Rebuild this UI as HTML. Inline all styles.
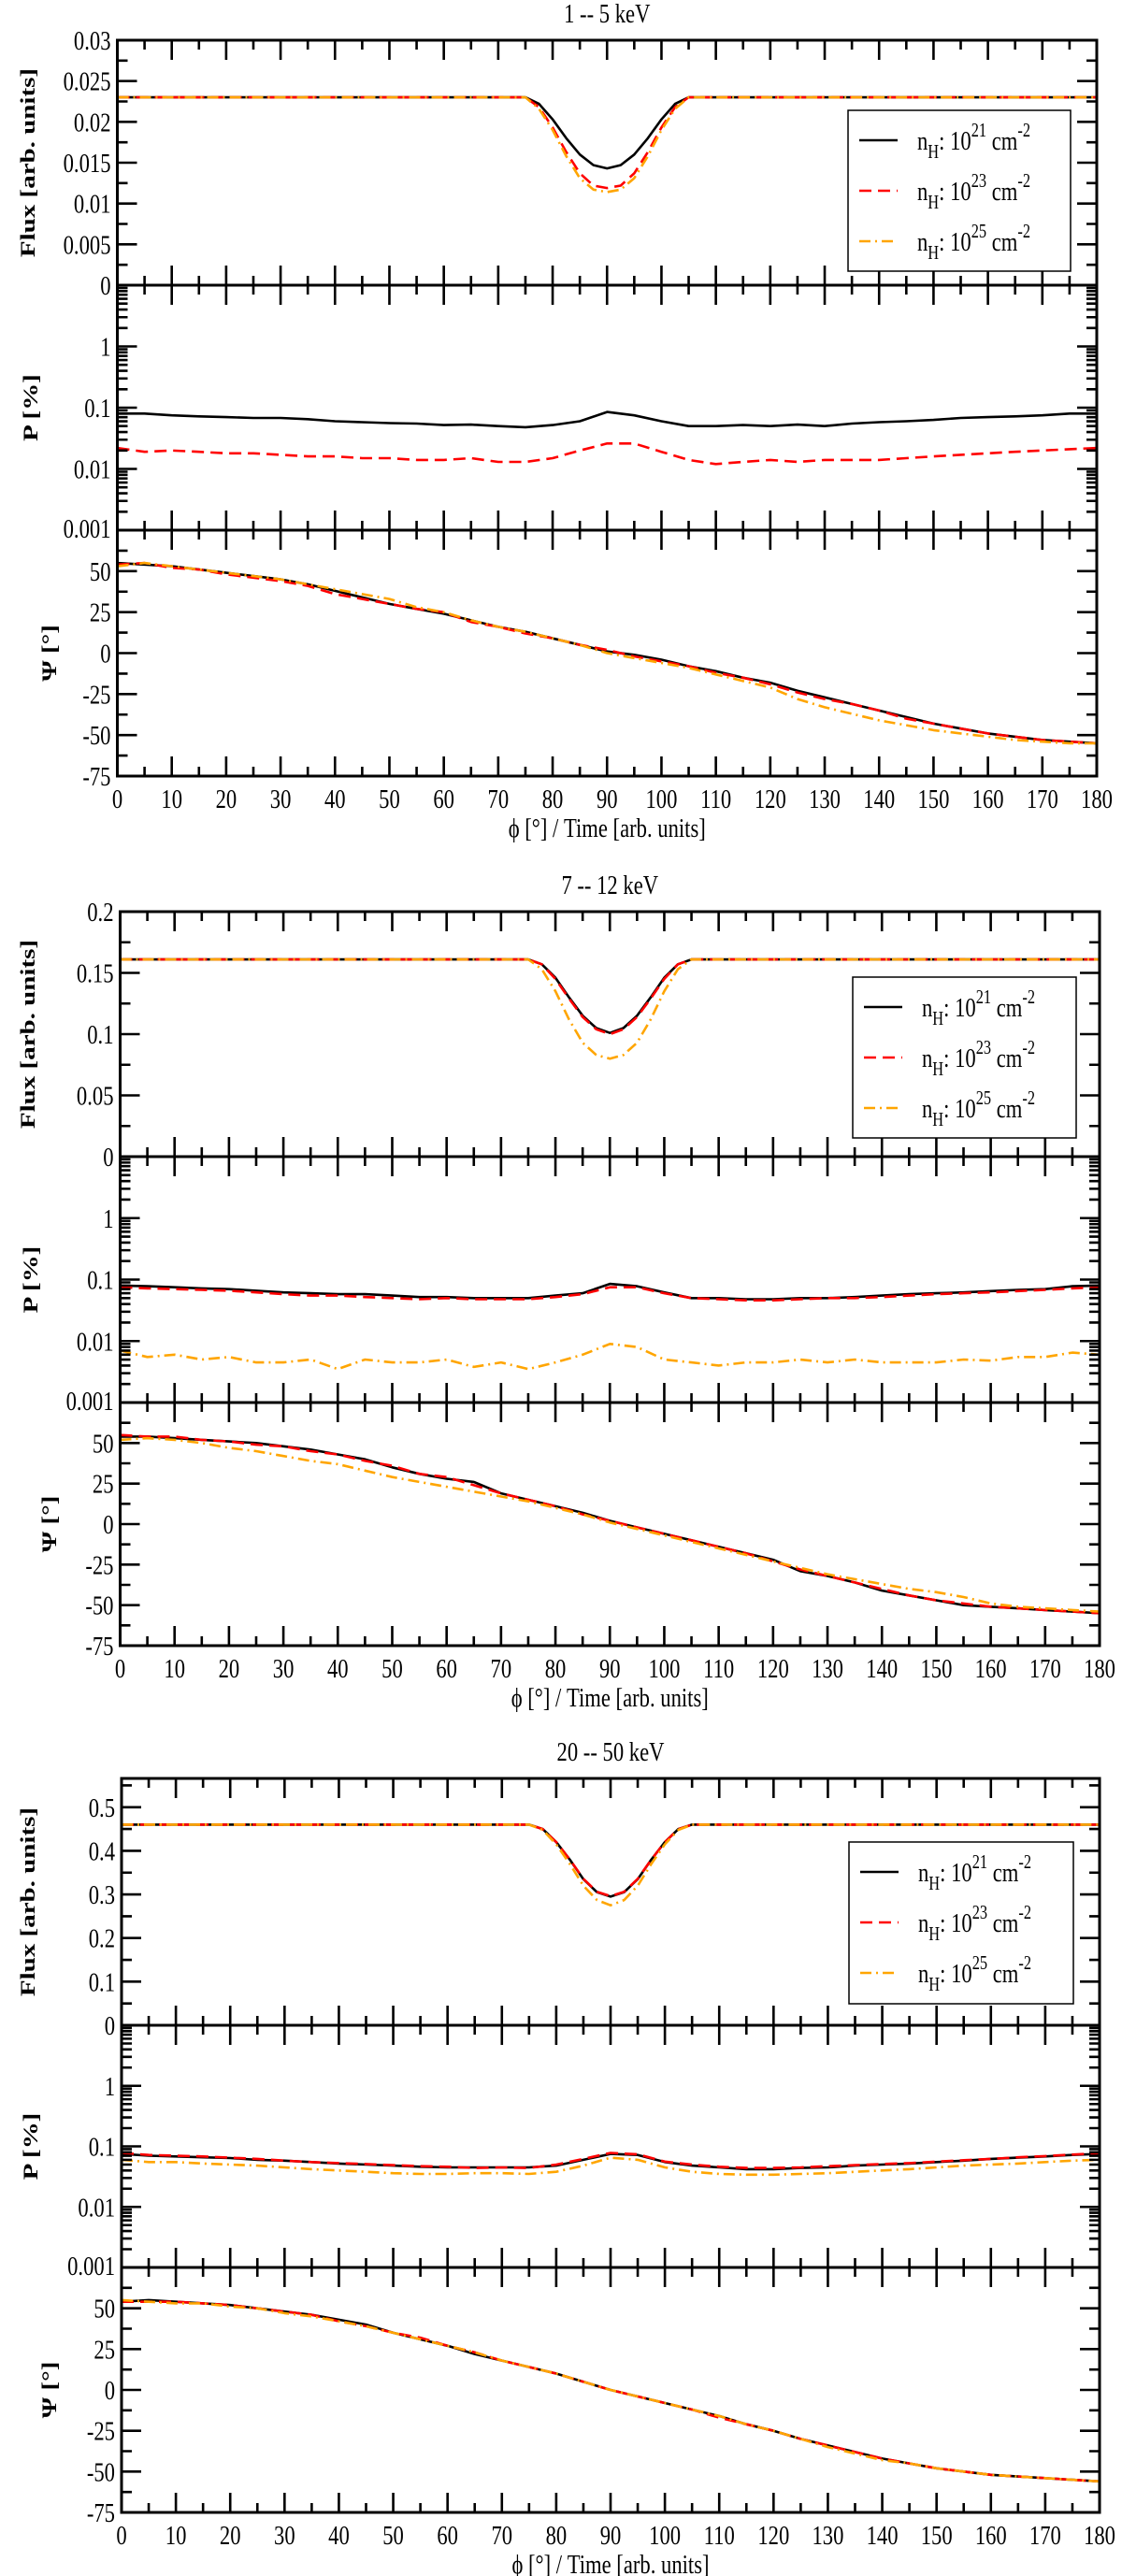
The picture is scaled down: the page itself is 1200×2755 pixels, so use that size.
<!DOCTYPE html>
<html><head><meta charset="utf-8"><style>
html,body{margin:0;padding:0;background:#fff}
svg{display:block;font-family:"Liberation Serif","DejaVu Serif",serif}
svg text{font-family:"Liberation Serif","DejaVu Serif",serif}
</style></head><body>
<svg id="fig" width="1200" height="2755" viewBox="0 0 1200 2755" xmlns="http://www.w3.org/2000/svg" font-family="Liberation Serif, DejaVu Serif, serif"></svg>
<script>
// ---------- data ----------
const phiSteps = [0,5,10,15,20,25,30,35,40,45,50,55,60,65,70,75,80,85,90,95,100,105,110,115,120,125,130,135,140,145,150,155,160,165,170,175,180];
const fluxX = [0,75,77.5,80,82.5,85,87.5,90,92.5,95,97.5,100,102.5,105,180];
const seriesNames = ["n21","n23","n25"];
const seriesExp = ["21","23","25"];

// Panel 1: 1 -- 5 keV
const p1FluxBlack = [.023,.023,.0222,.0203,.0180,.0160,.0147,.0143,.0147,.0160,.0180,.0203,.0222,.023,.023];
const p1FluxRed = [.023,.023,.0218,.0193,.0163,.0137,.0122,.0119,.0122,.0137,.0163,.0193,.0218,.023,.023];
const p1FluxOrange = [.023,.023,.0216,.0190,.0158,.0131,.0117,.0114,.0117,.0131,.0158,.0190,.0216,.023,.023];
const p1PBlack = [.08,.08,.075,.072,.07,.068,.068,.065,.06,.058,.056,.055,.052,.053,.05,.048,.052,.06,.085,.075,.06,.05,.05,.052,.05,.053,.05,.055,.058,.06,.063,.068,.07,.072,.075,.08,.08];
const p1PRed = [.022,.019,.02,.019,.018,.018,.017,.016,.016,.015,.015,.014,.014,.015,.013,.013,.015,.02,.026,.026,.019,.014,.012,.013,.014,.013,.014,.014,.014,.015,.016,.017,.018,.019,.02,.021,.022];
const p1POrange = [];
const p1PsiBlack = [55,54,53,51,49,47,45,42,38,34,30,27,24,20,16,13,9,5,1,-1,-4,-8,-11,-15,-18,-23,-27,-31,-35,-39,-43,-46,-49,-51,-53,-54,-55];
const p1PsiRed = [54,55,52,51,48,46,44,41,36,33,30,27,25,19,16,12,9,5,2,-2,-5,-8,-12,-15,-19,-24,-28,-31,-35,-40,-43,-46,-49,-51,-53,-54,-55];
const p1PsiOrange = [53,55,53,51,49,47,45,42,39,36,33,28,25,20,16,13,9,5,0,-3,-6,-9,-13,-17,-21,-28,-33,-37,-41,-44,-47,-49,-51,-53,-54,-55,-55];

// Panel 2: 7 -- 12 keV
const p2FluxBlack = [.161,.161,.157,.146,.130,.115,.105,.101,.105,.115,.130,.146,.157,.161,.161];
const p2FluxRed = [.161,.161,.157,.145,.129,.114,.104,.100,.104,.114,.129,.145,.157,.161,.161];
const p2FluxOrange = [.161,.161,.153,.135,.112,.093,.083,.080,.083,.093,.112,.135,.153,.161,.161];
const p2PBlack = [.08,.078,.075,.072,.07,.066,.062,.06,.058,.058,.055,.052,.052,.05,.05,.05,.055,.06,.085,.078,.062,.05,.05,.048,.048,.05,.05,.052,.055,.058,.06,.062,.065,.068,.07,.078,.08];
const p2PRed = [.075,.072,.07,.068,.066,.062,.058,.055,.055,.052,.05,.048,.05,.048,.048,.048,.052,.058,.075,.075,.06,.05,.048,.046,.046,.048,.05,.05,.052,.055,.058,.06,.062,.065,.068,.072,.075];
const p2POrange = [.007,.0055,.006,.005,.0055,.0045,.0045,.005,.0035,.005,.0045,.0045,.005,.0038,.0045,.0035,.0045,.006,.009,.008,.005,.0045,.004,.0045,.0045,.005,.0045,.005,.0045,.0045,.0045,.005,.0048,.0055,.0055,.0065,.006];
const p2PsiBlack = [54,54,53,52,51,50,48,46,43,40,35,31,28,26,19,15,11,7,2,-2,-6,-10,-14,-18,-22,-29,-32,-36,-41,-44,-47,-50,-51,-52,-53,-54,-55];
const p2PsiRed = [55,54,54,52,51,49,48,45,43,39,36,31,29,24,19,15,11,6,2,-2,-6,-10,-14,-18,-23,-28,-32,-36,-40,-44,-47,-49,-51,-52,-53,-54,-55];
const p2PsiOrange = [52,53,52,50,47,45,42,39,37,33,29,26,23,20,17,14,10,6,1,-3,-7,-11,-15,-19,-23,-27,-31,-34,-37,-40,-42,-45,-49,-51,-52,-53,-54];

// Panel 3: 20 -- 50 keV
const p3FluxBlack = [.46,.46,.45,.42,.38,.335,.305,.295,.305,.335,.38,.42,.45,.46,.46];
const p3FluxRed = [.46,.46,.45,.42,.38,.336,.306,.296,.306,.336,.38,.42,.45,.46,.46];
const p3FluxOrange = [.46,.46,.448,.415,.37,.32,.287,.275,.287,.32,.37,.415,.448,.46,.46];
const p3PBlack = [.075,.07,.068,.066,.064,.06,.058,.055,.052,.05,.048,.046,.045,.045,.045,.045,.048,.06,.075,.072,.055,.048,.045,.042,.042,.044,.045,.048,.05,.052,.055,.058,.062,.065,.068,.072,.075];
const p3PRed = [.078,.072,.07,.068,.065,.062,.058,.055,.053,.051,.049,.047,.046,.044,.045,.044,.05,.062,.078,.074,.056,.05,.046,.044,.044,.045,.047,.049,.051,.053,.056,.059,.062,.066,.069,.073,.077];
const p3POrange = [.06,.055,.055,.052,.05,.048,.045,.042,.04,.038,.036,.035,.035,.036,.036,.035,.038,.048,.065,.06,.045,.038,.035,.034,.034,.035,.036,.038,.04,.042,.045,.048,.05,.052,.055,.058,.06];
const p3PsiBlack = [54,55,54,53,52,50,48,46,43,40,35,31,27,22,18,14,10,5,0,-4,-8,-12,-16,-21,-25,-30,-34,-38,-42,-45,-48,-50,-52,-53,-54,-55,-56];
const p3PsiRed = [54,54,54,53,52,50,48,46,42,39,35,32,27,23,18,14,10,5,0,-4,-8,-12,-17,-21,-25,-30,-34,-38,-42,-45,-48,-50,-52,-53,-54,-55,-56];
const p3PsiOrange = [55,54,53,53,51,50,47,45,42,39,35,31,27,23,18,14,10,5,0,-4,-8,-12,-16,-21,-25,-30,-35,-39,-43,-45,-48,-50,-52,-53,-54,-55,-56];

const titles = ["1 -- 5 keV","7 -- 12 keV","20 -- 50 keV"];
const fluxMax = [0.03,0.2,0.566];
const fluxMajor = [0.005,0.05,0.1];
const fluxLabelMax = [0.03,0.2,0.5];
const fluxDecimals = [3,2,1];

// ---------- layout ----------
const layouts = [
  {L:125.5,R:1173,y:[43,305,567,830],leg:[907,118,238,172]},
  {L:128.5,R:1176,y:[975,1237,1500,1760],leg:[912,1045,239,172]},
  {L:130,R:1176,y:[1902,2166,2425,2687],leg:[908,1970,240,173]}
];
const panelData = [
  {flux:[p1FluxBlack,p1FluxRed,p1FluxOrange],P:[p1PBlack,p1PRed,p1POrange],psi:[p1PsiBlack,p1PsiRed,p1PsiOrange]},
  {flux:[p2FluxBlack,p2FluxRed,p2FluxOrange],P:[p2PBlack,p2PRed,p2POrange],psi:[p2PsiBlack,p2PsiRed,p2PsiOrange]},
  {flux:[p3FluxBlack,p3FluxRed,p3FluxOrange],P:[p3PBlack,p3PRed,p3POrange],psi:[p3PsiBlack,p3PsiRed,p3PsiOrange]}
];
const colors = ["#000000","#ff0000","#ffa500"];
const dashes = ["", "13,7", "12,5,2,5"];
const FONT = "Liberation Serif, DejaVu Serif, serif";
const SX = 0.78;   // horizontal glyph condensation
const FS = 29;

const NS = "http://www.w3.org/2000/svg";
const svg = document.getElementById("fig");
function mk(tag, attrs, parent){
  const e = document.createElementNS(NS, tag);
  for (const k in attrs) e.setAttribute(k, attrs[k]);
  (parent||svg).appendChild(e);
  return e;
}
// condensed text at (x,y)
function ctext(parent, x, y, anchor, extra, rot){
  const tr = rot ? `translate(${x} ${y}) rotate(-90) scale(${SX} 1)` : `translate(${x} ${y}) scale(${SX} 1)`;
  const a = Object.assign({x:0,y:0,"text-anchor":anchor,"font-size":FS,"font-family":FONT,transform:tr}, extra||{});
  return mk("text", a, parent);
}
function fmt(v,d){ return v===0 ? "0" : v.toFixed(d); }

layouts.forEach((lay, pi) => {
  const g = mk("g", {});
  
  
  const L = lay.L, R = lay.R, Y = lay.y;
  const xs = v => L + (R-L)*v/180;
  const fy = v => Y[1] - (Y[1]-Y[0])*v/fluxMax[pi];
  const py = v => Y[2] - (Y[2]-Y[1])*(Math.log10(v)+3)/4;
  const sy = v => Y[3] - (Y[3]-Y[2])*(v+75)/150;

  const t = ctext(g, (L+R)/2, Y[0]-19, "middle");
  t.textContent = titles[pi];
  
  

  const subs = [["flux",fy,fluxX],["P",py,phiSteps],["psi",sy,phiSteps]];
  subs.forEach(([key, yf, xarr]) => {
    panelData[pi][key].forEach((arr, si) => {
      if (!arr.length) return;
      const d = arr.map((v,i)=>(i?"L":"M")+xs(xarr[i]).toFixed(1)+","+yf(v).toFixed(1)).join(" ");
      const p = mk("path",{d:d,fill:"none",stroke:colors[si],"stroke-width":2.6,"stroke-dasharray":dashes[si],"stroke-linejoin":"round"}, g);
      
      
    });
  });

  for (let k=0;k<3;k++){
    const r = mk("rect",{x:L,y:Y[k],width:R-L,height:Y[k+1]-Y[k],fill:"none",stroke:"#000","stroke-width":3}, g);
    
    
  }

  let td = "";
  for (let k=0;k<3;k++){
    for (let v=0; v<=180; v+=5){
      const len = v%10===0 ? 21 : 10;
      const x = xs(v);
      td += `M${x},${Y[k]}v${len}M${x},${Y[k+1]}v${-len}`;
    }
  }
  const fm = fluxMajor[pi];
  for (let i=0; i*fm/2 <= fluxMax[pi]+1e-9; i++){
    const v = i*fm/2, y = fy(v), len = i%2===0 ? 21 : 11;
    td += `M${L},${y}h${len}M${R},${y}h${-len}`;
  }
  for (let e=-3;e<=1;e++){
    for (let m=1;m<=9;m++){
      if (e===1 && m>1) break;
      const y = py(m*Math.pow(10,e)), len = m===1 ? 21 : 11;
      td += `M${L},${y}h${len}M${R},${y}h${-len}`;
    }
  }
  for (let v=-75; v<=75; v+=12.5){
    const y = sy(v), len = (v % 25 === 0) ? 21 : 11;
    td += `M${L},${y}h${len}M${R},${y}h${-len}`;
  }
  const tk = mk("path",{d:td,stroke:"#000","stroke-width":2.6,fill:"none"}, g);
  
  

  function ylab(txt, y, name){
    const e = ctext(g, L-7, y+10, "end");
    e.textContent = txt;
    
    
  }
  for (let i=0; i*fm <= fluxLabelMax[pi]+1e-9; i++){
    const v = i*fm;
    ylab(fmt(v, fluxDecimals[pi]).replace(/^0\.(\d*?)0+$/, "0.$1").replace(/\.$/,""), fy(v), 'flux-tick-label');
  }
  ["0.001","0.01","0.1","1"].forEach((s,i)=> { if (i>0) ylab(s, py(Math.pow(10,i-3)), 'p-tick-label'); });
  ylab("0.001", py(0.001)-2, 'p-tick-label');
  for (let v=-75; v<=50; v+=25) ylab(String(v), sy(v), 'psi-tick-label');

  for (let v=0; v<=180; v+=10){
    const e = ctext(g, xs(v), Y[3]+34, "middle");
    e.textContent = String(v);
    
    
  }
  const xt = ctext(g, (L+R)/2, Y[3]+65, "middle");
  xt.textContent = "ϕ [°] / Time [arb. units]";
  
  

  function ytitle(txt, cx, cy, name){
    const e = mk("text",{x:0,y:0,"text-anchor":"middle","font-size":FS,"font-family":FONT,"font-weight":"bold",transform:`translate(${cx} ${cy}) rotate(-90) scale(1 ${SX})`}, g);
    e.textContent = txt;
    
    
  }
  ytitle("Flux [arb. units]", 37, (Y[0]+Y[1])/2, 'flux-axis-title');
  ytitle("P [%]", 40, (Y[1]+Y[2])/2, 'p-axis-title');
  ytitle("Ψ [°]", 60, (Y[2]+Y[3])/2, 'psi-axis-title');

  const [bx,by,bw,bh] = lay.leg;
  const lg = mk("g",{}, g);
  
  
  mk("rect",{x:bx,y:by,width:bw,height:bh,fill:"#fff",stroke:"#000","stroke-width":1.5}, lg);
  seriesExp.forEach((ex, si) => {
    const ly = by + 32 + si*54;
    const ln = mk("line",{x1:bx+12,x2:bx+53,y1:ly,y2:ly,stroke:colors[si],"stroke-width":2.6,"stroke-dasharray":dashes[si]}, lg);
    
    
    const tx = ctext(lg, bx+74, ly+10, "start");
    
    
    tx.innerHTML = `n<tspan dy="9" font-size="21">H</tspan><tspan dy="-9">: 10</tspan><tspan dy="-14" font-size="21">${ex}</tspan><tspan dy="14"> cm</tspan><tspan dy="-14" font-size="21">-2</tspan>`;
  });
});
</script>
</body></html>
